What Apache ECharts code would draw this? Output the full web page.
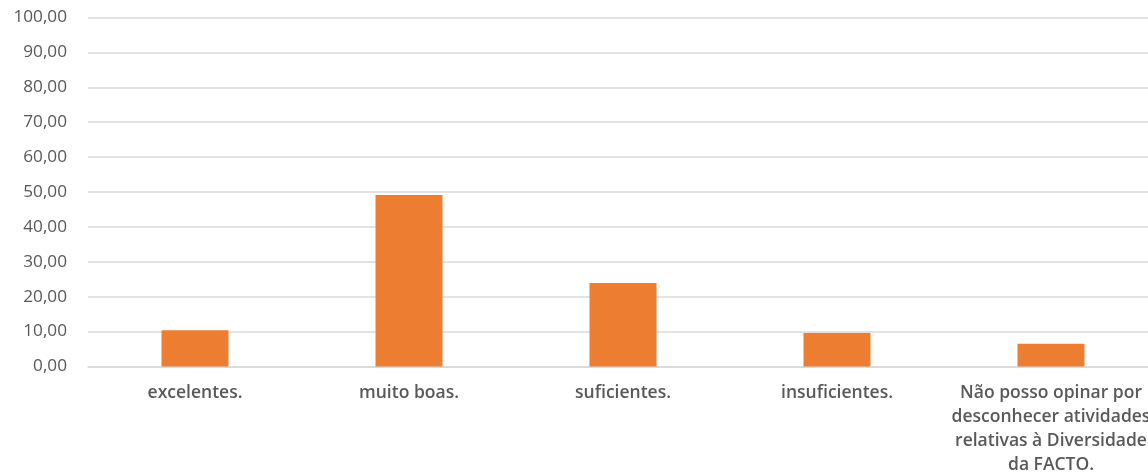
<!DOCTYPE html>
<html><head><meta charset="utf-8">
<script src="https://cdn.jsdelivr.net/npm/echarts@6/dist/echarts.min.js"></script>
<style>html,body{margin:0;padding:0;background:#fff}#c{width:1148px;height:476px}</style>
</head><body><div id="c"></div>
<script>
const categories = ['excelentes.', 'muito boas.', 'suficientes.', 'insuficientes.', 'Não posso opinar por\ndesconhecer atividades\nrelativas à Diversidade\nda FACTO.'];
const values = [10.39, 49.15, 23.9, 9.6, 6.49];
const yMin = 0, yMax = 100, yStep = 10;

const chart = echarts.init(document.getElementById('c'));
chart.setOption({
  animation: false,
  grid: { left: 88, top: 17.5, right: -10, bottom: 109.5, containLabel: false, outerBoundsMode: 'none' },
  xAxis: {
    type: 'category', data: categories,
    axisLine: { lineStyle: { color: '#d9d9d9', width: 1.5 } },
    axisTick: { show: false },
    axisLabel: { interval: 0, color: '#595959', fontFamily: 'Open Sans', fontWeight: 600, fontSize: 17.5, lineHeight: 24, margin: 15 }
  },
  yAxis: {
    type: 'value', min: yMin, max: yMax, interval: yStep,
    axisLine: { show: false }, axisTick: { show: false },
    splitLine: { lineStyle: { color: '#d9d9d9', width: 1.5 } },
    axisLabel: { color: '#595959', fontFamily: 'Open Sans', fontSize: 17.2, margin: 21,
      formatter: v => v.toFixed(2).replace('.', ',') }
  },
  series: [{
    type: 'bar', data: values, barWidth: 67,
    itemStyle: { color: '#ED7D31' }
  }]
});
</script></body></html>
